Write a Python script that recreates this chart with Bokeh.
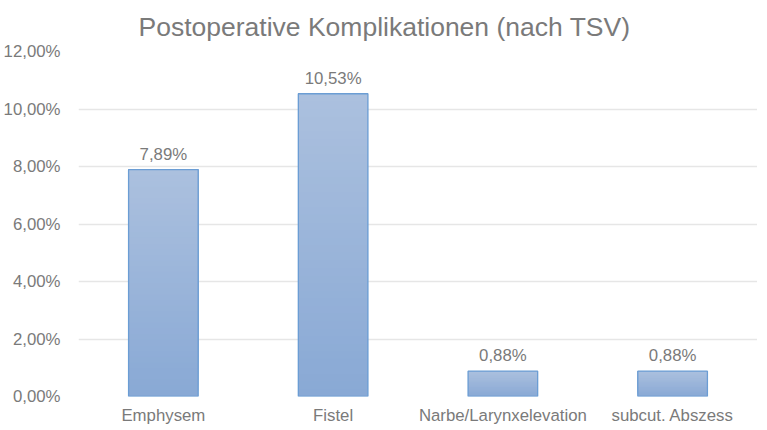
from bokeh.plotting import figure
from bokeh.models import ColumnDataSource, FixedTicker, CustomJSTickFormatter, LabelSet
from bokeh.core.properties import value
from bokeh.embed import file_html
from bokeh.resources import INLINE

categories = ["Emphysem", "Fistel", "Narbe/Larynxelevation", "subcut. Abszess"]
values = [7.89, 10.53, 0.88, 0.88]
value_labels = ["7,89%", "10,53%", "0,88%", "0,88%"]
y_ticks = [0, 2, 4, 6, 8, 10, 12]

FONT = "Liberation Sans"
GREY = "#7a7a7a"

p = figure(x_range=categories, y_range=(0, 12),
           frame_width=679, frame_height=345,
           output_backend="svg", toolbar_location=None,
           min_border_left=72, min_border_right=0, min_border_top=0,
           min_border_bottom=0)
p.outline_line_color = None
p.title.text = "Postoperative Komplikationen (nach TSV)"
p.title.text_font = FONT
p.title.text_font_size = "26.5px"
p.title.text_font_style = "normal"
p.title.text_color = GREY
p.title.align = "left"
p.title.offset = 60
p.title.standoff = 19

# gradient bars: layered slices from darker (bottom) to light (top)
top_c = (0xAB, 0xC0, 0xDE)
bot_c = (0x89, 0xA9, 0xD5)
N = 40
for k in range(N):
    t = k / (N - 1)
    c = tuple(int(round(bot_c[i] + (top_c[i] - bot_c[i]) * t)) for i in range(3))
    color = "#%02x%02x%02x" % c
    bottoms = [v * k / N for v in values]
    p.vbar(x=categories, bottom=bottoms, top=values, width=0.41,
           fill_color=color, line_color=None)

src = ColumnDataSource(dict(cat=categories, val=values, lab=value_labels))
p.vbar(x="cat", top="val", width=0.41, source=src, fill_color=None,
       line_color="#6b9dd4", line_width=1.3)

labels = LabelSet(x="cat", y="val", text="lab", source=src, text_align="center",
                  text_baseline="bottom", y_offset=6, text_font=value(FONT),
                  text_font_size=value("16.8px"), text_color=GREY)
p.add_layout(labels)

p.yaxis.ticker = FixedTicker(ticks=y_ticks)
p.yaxis.formatter = CustomJSTickFormatter(code="return tick.toFixed(2).replace('.', ',') + '%';")
for ax in (p.xaxis, p.yaxis):
    ax.axis_line_color = None
    ax.major_tick_line_color = None
    ax.minor_tick_line_color = None
    ax.major_tick_out = 0
    ax.major_tick_in = 0
    ax.minor_tick_out = 0
    ax.minor_tick_in = 0
    ax.major_label_text_font = FONT
    ax.major_label_text_font_size = "16.8px"
    ax.major_label_text_color = GREY
p.yaxis.major_label_standoff = 18
p.xaxis.major_label_standoff = 9
p.xgrid.grid_line_color = None
p.ygrid.grid_line_color = "#e6e6e6"
p.ygrid.grid_line_width = 1.3

open("out.html", "w").write(file_html(p, INLINE))
